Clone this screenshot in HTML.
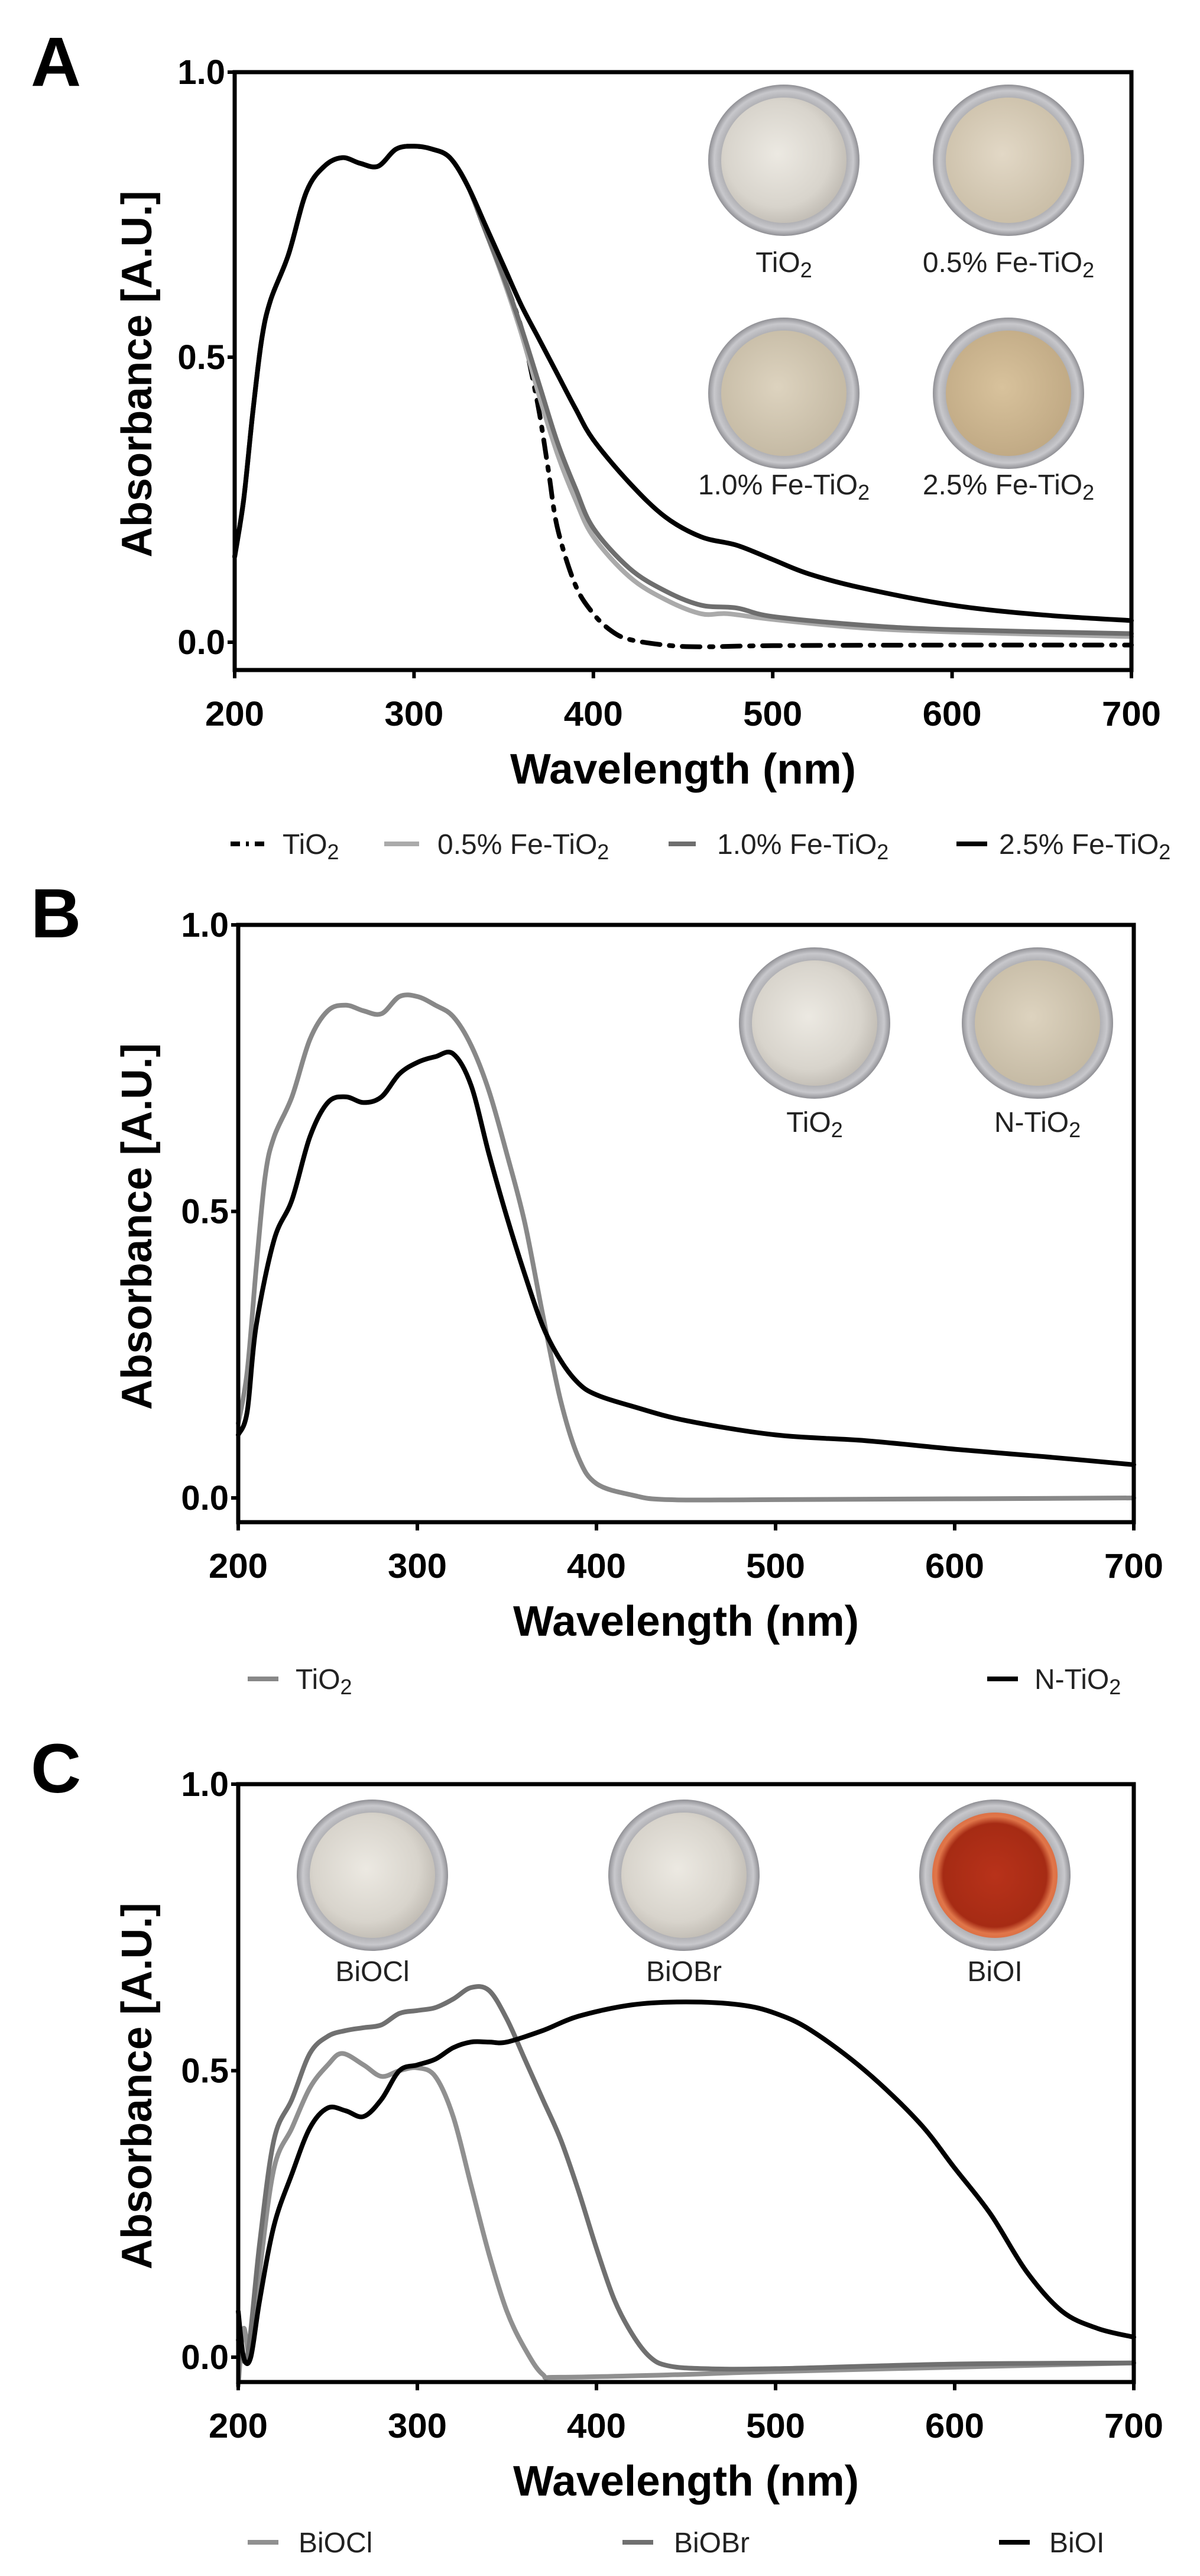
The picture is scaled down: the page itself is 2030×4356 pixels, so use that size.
<!DOCTYPE html>
<html><head><meta charset="utf-8"><style>
html,body{margin:0;padding:0;background:#fff;}
svg{display:block;}
text{font-family:"Liberation Sans",Arial,sans-serif;}
</style></head><body>
<svg id="s" width="2030" height="4356" viewBox="0 0 2030 4356" xmlns="http://www.w3.org/2000/svg">
<defs>
<radialGradient id="dishW" cx="45%" cy="45%" r="60%"><stop offset="0" stop-color="#ece9e2"/><stop offset="0.7" stop-color="#d8d4cc"/><stop offset="1" stop-color="#bdb8b0"/></radialGradient>
<radialGradient id="dishT1" cx="45%" cy="45%" r="60%"><stop offset="0" stop-color="#e2d8c6"/><stop offset="1" stop-color="#c9bda6"/></radialGradient>
<radialGradient id="dishT2" cx="45%" cy="45%" r="60%"><stop offset="0" stop-color="#ddd3bf"/><stop offset="1" stop-color="#c3b8a2"/></radialGradient>
<radialGradient id="dishT3" cx="45%" cy="45%" r="60%"><stop offset="0" stop-color="#d8c29c"/><stop offset="1" stop-color="#bfa883"/></radialGradient>
<radialGradient id="dishR" cx="50%" cy="50%" r="55%"><stop offset="0" stop-color="#b8321a"/><stop offset="0.75" stop-color="#a62b14"/><stop offset="0.85" stop-color="#e0764a"/><stop offset="1" stop-color="#d8683c"/></radialGradient>
<radialGradient id="rim" cx="50%" cy="50%" r="50%"><stop offset="0.8" stop-color="#a9a9ad"/><stop offset="0.92" stop-color="#c8c8cc"/><stop offset="1" stop-color="#8f8f94"/></radialGradient>
</defs>
<g id="g"></g>
</svg>
<script>
const NS="http://www.w3.org/2000/svg";
const G=document.getElementById('g');
function el(t,a,txt){const e=document.createElementNS(NS,t);for(const k in a)e.setAttribute(k,a[k]);if(txt!==undefined)e.textContent=txt;G.appendChild(e);return e;}
function smooth(pts){let d="M"+pts[0][0].toFixed(1)+","+pts[0][1].toFixed(1);
 for(let i=0;i<pts.length-1;i++){const p0=pts[i-1]||pts[i],p1=pts[i],p2=pts[i+1],p3=pts[i+2]||p2;
 const c1=[p1[0]+(p2[0]-p0[0])/6,p1[1]+(p2[1]-p0[1])/6],c2=[p2[0]-(p3[0]-p1[0])/6,p2[1]-(p3[1]-p1[1])/6];
 d+=" C"+c1.map(v=>v.toFixed(1))+" "+c2.map(v=>v.toFixed(1))+" "+p2[0].toFixed(1)+","+p2[1].toFixed(1);}return d;}
function panel(P){
 const X=nm=>P.x0+(nm-200)/500*(P.x1-P.x0), Y=a=>P.y0-a*(P.y0-P.y1);
 el('text',{x:52,y:P.ly,'font-size':118,'font-weight':'bold'},P.letter);
 for(const s of P.series){el('path',{d:smooth(s.d.map(p=>[X(p[0]),Y(p[1])])),fill:'none',stroke:s.c,'stroke-width':8,'stroke-linejoin':'round','stroke-linecap':'round','stroke-dasharray':s.dash||'none'});}
 el('rect',{x:P.x0,y:P.y1,width:P.x1-P.x0,height:P.yb-P.y1,fill:'none',stroke:'#000','stroke-width':7});
 [0,0.5,1].forEach(v=>{const y=Y(v);el('line',{x1:P.x0-12,y1:y,x2:P.x0,y2:y,stroke:'#000','stroke-width':6});
  el('text',{x:P.x0-16,y:y+20,'font-size':58,'font-weight':'bold','text-anchor':'end'},v.toFixed(1));});
 for(let n=200;n<=700;n+=100){const x=X(n);el('line',{x1:x,y1:P.yb,x2:x,y2:P.yb+14,stroke:'#000','stroke-width':6});
  el('text',{x:x,y:P.yb+94,'font-size':58,'font-weight':'bold','text-anchor':'middle',textLength:100,lengthAdjust:'spacingAndGlyphs'},n);}
 el('text',{x:(P.x0+P.x1)/2,y:P.yb+192,'font-size':72,'font-weight':'bold','text-anchor':'middle',textLength:585,lengthAdjust:'spacingAndGlyphs'},'Wavelength (nm)');
 const yc=(P.y1+P.yb)/2+5;
 el('text',{x:0,y:0,'font-size':72,'font-weight':'bold','text-anchor':'middle',textLength:620,lengthAdjust:'spacingAndGlyphs',transform:`translate(256,${yc}) rotate(-90)`},'Absorbance [A.U.]');
 for(const d of P.dishes){el('circle',{cx:d.x,cy:d.y,r:128,fill:'url(#rim)'});el('circle',{cx:d.x,cy:d.y,r:106,fill:d.f});
  const t=el('text',{x:d.x,y:d.ly,'font-size':48,'text-anchor':'middle',fill:'#222'});t.innerHTML=d.t;}
 for(const l of P.leg){el('line',{x1:l.x1,y1:P.legy,x2:l.x2,y2:P.legy,stroke:l.c,'stroke-width':8,'stroke-dasharray':l.dash||'none'});
  const t=el('text',{x:l.tx,y:P.legy+17,'font-size':48,fill:'#222'});t.innerHTML=l.t;}
}
const sub='<tspan baseline-shift="-25%" font-size="36">2</tspan>';
const base=[[200,0.15],[205,0.25],[210,0.4],[215,0.53],[220,0.6],[230,0.68],[240,0.79],[250,0.835],[260,0.85],[270,0.84],[280,0.835],[290,0.865],[300,0.87],[310,0.865],[320,0.85],[330,0.8]];
panel({letter:'A',ly:145,x0:397,x1:1914,y0:1086,y1:122,yb:1133,legy:1427,
 series:[
 {c:'#000',dash:'30 16 6 16',d:base.concat([[340,0.72],[350,0.64],[360,0.55],[365,0.48],[370,0.4],[375,0.3],[380,0.2],[390,0.1],[400,0.05],[410,0.02],[420,0.005],[440,-0.005],[460,-0.008],[500,-0.006],[600,-0.005],[700,-0.005]])},
 {c:'#aaaaaa',d:base.concat([[340,0.72],[350,0.635],[360,0.54],[370,0.43],[380,0.33],[390,0.25],[400,0.185],[420,0.115],[440,0.075],[460,0.05],[475,0.05],[500,0.04],[550,0.025],[600,0.018],[700,0.01]])},
 {c:'#6e6e6e',d:base.concat([[340,0.72],[350,0.64],[360,0.55],[370,0.45],[380,0.35],[390,0.27],[400,0.2],[420,0.13],[440,0.09],[460,0.065],[480,0.06],[500,0.045],[550,0.03],[600,0.022],[700,0.015]])},
 {c:'#000',d:base.concat([[340,0.73],[350,0.66],[360,0.59],[370,0.53],[380,0.47],[390,0.41],[400,0.355],[420,0.28],[440,0.22],[460,0.185],[480,0.17],[500,0.145],[520,0.12],[550,0.095],[600,0.065],[650,0.048],[700,0.038]])}],
 dishes:[{x:1326,y:271,f:'url(#dishW)',ly:460,t:'TiO'+sub},{x:1706,y:271,f:'url(#dishT1)',ly:460,t:'0.5% Fe-TiO'+sub},
  {x:1326,y:665,f:'url(#dishT2)',ly:836,t:'1.0% Fe-TiO'+sub},{x:1706,y:665,f:'url(#dishT3)',ly:836,t:'2.5% Fe-TiO'+sub}],
 leg:[{x1:390,x2:449,c:'#000',dash:'16 10 5 10',tx:478,t:'TiO'+sub},{x1:650,x2:709,c:'#aaaaaa',tx:740,t:'0.5% Fe-TiO'+sub},
  {x1:1131,x2:1177,c:'#6e6e6e',tx:1213,t:'1.0% Fe-TiO'+sub},{x1:1618,x2:1670,c:'#000',tx:1690,t:'2.5% Fe-TiO'+sub}]});
panel({letter:'B',ly:1585,x0:403,x1:1918,y0:2533,y1:1564,yb:2574,legy:2839,
 series:[
 {c:'#888888',d:[[200,0.13],[205,0.22],[210,0.4],[215,0.56],[220,0.63],[230,0.7],[240,0.8],[250,0.85],[260,0.86],[270,0.85],[280,0.845],[290,0.875],[300,0.875],[310,0.86],[320,0.84],[330,0.79],[340,0.71],[350,0.6],[360,0.48],[370,0.32],[380,0.17],[390,0.07],[400,0.025],[420,0.005],[440,-0.003],[500,-0.003],[700,0]]},
 {c:'#000',d:[[200,0.11],[205,0.15],[210,0.3],[220,0.45],[230,0.52],[240,0.63],[250,0.69],[260,0.7],[270,0.69],[280,0.7],[290,0.74],[300,0.76],[310,0.77],[320,0.775],[330,0.72],[340,0.6],[350,0.49],[360,0.39],[370,0.3],[380,0.24],[390,0.2],[400,0.18],[420,0.16],[450,0.135],[500,0.11],[550,0.1],[600,0.085],[650,0.072],[700,0.058]]}],
 dishes:[{x:1378,y:1730,f:'url(#dishW)',ly:1914,t:'TiO'+sub},{x:1755,y:1730,f:'url(#dishT2)',ly:1914,t:'N-TiO'+sub}],
 leg:[{x1:419,x2:471,c:'#888888',tx:500,t:'TiO'+sub},{x1:1670,x2:1722,c:'#000',tx:1750,t:'N-TiO'+sub}]});
panel({letter:'C',ly:3031,x0:403,x1:1918,y0:3986,y1:3017,yb:4028,legy:4299,
 series:[
 {c:'#909090',d:[[200,-0.05],[203,0.05],[207,0.0],[212,0.15],[220,0.33],[230,0.4],[240,0.47],[250,0.51],[258,0.53],[270,0.51],[280,0.49],[290,0.5],[300,0.505],[310,0.49],[320,0.42],[330,0.3],[340,0.18],[350,0.08],[360,0.015],[370,-0.03],[380,-0.035],[450,-0.03],[500,-0.025],[700,-0.01]]},
 {c:'#707070',d:[[200,0.03],[205,0.0],[212,0.2],[220,0.38],[230,0.45],[240,0.53],[250,0.56],[260,0.57],[270,0.575],[280,0.58],[290,0.6],[300,0.605],[310,0.61],[320,0.625],[330,0.645],[340,0.64],[350,0.59],[360,0.52],[370,0.45],[380,0.38],[390,0.29],[400,0.19],[410,0.1],[420,0.04],[430,0.0],[440,-0.015],[460,-0.02],[500,-0.02],[600,-0.012],[700,-0.01]]},
 {c:'#000',d:[[200,0.08],[203,0.0],[207,0.0],[212,0.1],[220,0.23],[230,0.32],[240,0.4],[250,0.435],[260,0.43],[270,0.42],[280,0.45],[290,0.5],[300,0.51],[310,0.52],[320,0.54],[330,0.55],[340,0.55],[350,0.55],[370,0.57],[390,0.595],[420,0.615],[450,0.62],[480,0.615],[500,0.6],[520,0.57],[550,0.5],[580,0.41],[600,0.33],[620,0.25],[640,0.15],[660,0.08],[680,0.05],[700,0.035]]}],
 dishes:[{x:630,y:3171,f:'url(#dishW)',ly:3350,t:'BiOCl'},{x:1157,y:3171,f:'url(#dishW)',ly:3350,t:'BiOBr'},{x:1683,y:3171,f:'url(#dishR)',ly:3350,t:'BiOI'}],
 leg:[{x1:419,x2:471,c:'#909090',tx:505,t:'BiOCl'},{x1:1053,x2:1105,c:'#707070',tx:1140,t:'BiOBr'},{x1:1690,x2:1742,c:'#000',tx:1775,t:'BiOI'}]});
</script>
</body></html>
